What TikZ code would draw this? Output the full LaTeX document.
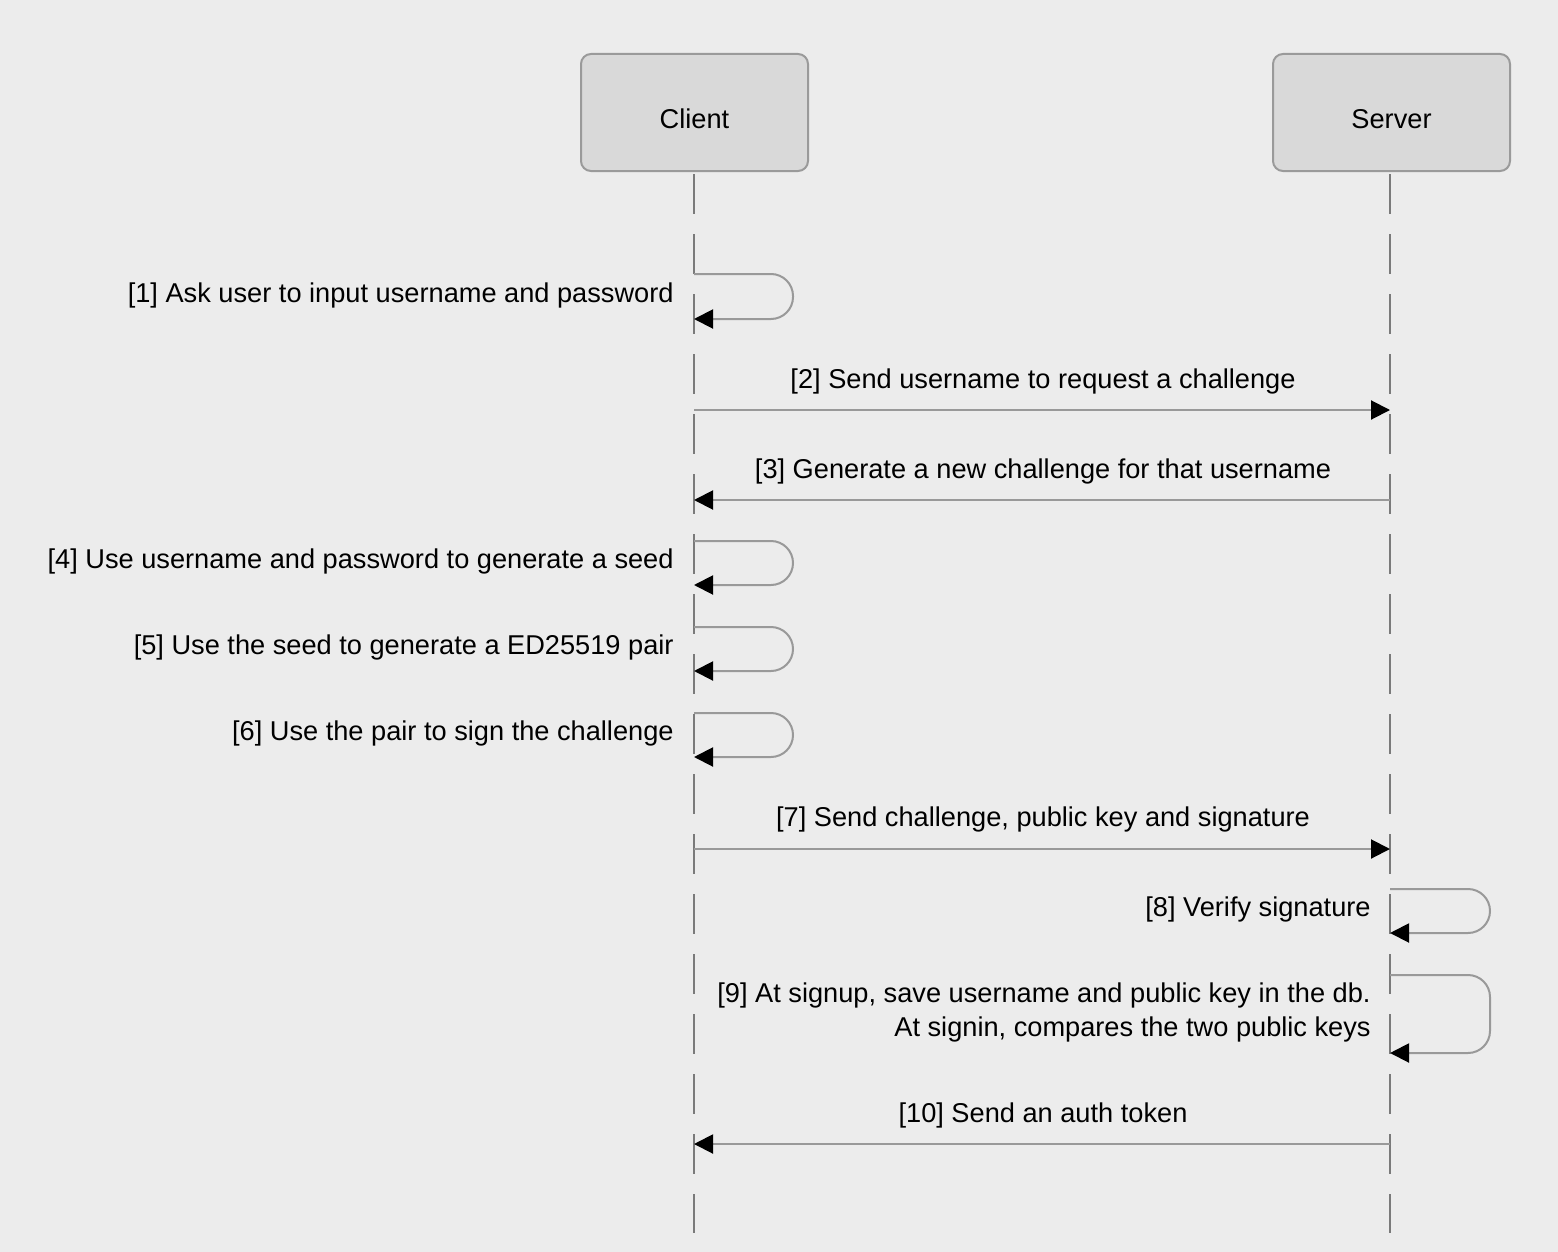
\documentclass[tikz,border=0pt]{standalone}
\usepackage{fontspec}
\setmainfont{Liberation Sans}
\usetikzlibrary{arrows.meta}
\definecolor{bg}{HTML}{ECECEC}
\definecolor{boxfill}{HTML}{D9D9D9}
\definecolor{boxline}{HTML}{9A9A9A}
\definecolor{lifecol}{HTML}{7A7A7A}
\definecolor{msgcol}{HTML}{999999}
\begin{document}
\begin{tikzpicture}[x=0.5pt,y=-0.5pt,
  actor/.style={draw=boxline,fill=boxfill,rounded corners=5pt,line width=1pt,minimum height=58.5pt,inner sep=0pt,text height=15.8pt,text depth=0pt,font=\fontsize{13.6}{16}\selectfont},
  life/.style={draw=lifecol,line width=1pt,dash pattern=on 20pt off 10pt},
  msg/.style={draw=msgcol,line width=1pt,-{Triangle[length=9.5pt,width=9.5pt,color=black,fill=black]}},
  selfmsg/.style={msg,rounded corners=11pt},
  lbl/.style={font=\fontsize{13.6}{17}\selectfont,inner sep=0pt}]
\useasboundingbox[fill=bg] (0,0) rectangle (1558,1252);
% actors
\node[actor,minimum width=113.5pt] (client) at (694.5,112.5) {Client};
\node[actor,minimum width=118.5pt] (server) at (1391.5,112.5) {Server};
\coordinate (cend) at (694,1233);
\coordinate (send) at (1390,1233);
\draw[life] (694,174) coordinate (cstart) -- (cend);
\draw[life] (1390,174) coordinate (sstart) -- (send);
% message anchor points on lifelines
\coordinate (c1a) at (694,274); \coordinate (c1b) at (694,319);
\coordinate (c2) at (694,410);  \coordinate (s2) at (1390,410);
\coordinate (c3) at (694,500);  \coordinate (s3) at (1390,500);
\coordinate (c4a) at (694,541); \coordinate (c4b) at (694,585);
\coordinate (c5a) at (694,627); \coordinate (c5b) at (694,671);
\coordinate (c6a) at (694,713); \coordinate (c6b) at (694,757);
\coordinate (c7) at (694,849);  \coordinate (s7) at (1390,849);
\coordinate (s8a) at (1390,889); \coordinate (s8b) at (1390,933);
\coordinate (s9a) at (1390,975); \coordinate (s9b) at (1390,1053);
\coordinate (c10) at (694,1144); \coordinate (s10) at (1390,1144);
% messages
\draw[selfmsg] (c1a) -- ++(99,0) |- (c1b);
\node[lbl,anchor=east] (l1) at (674,295) {[1] Ask user to input username and password};
\draw[msg] (c2) -- (s2);
\node[lbl] (l2) at (1043,381) {[2] Send username to request a challenge};
\draw[msg] (s3) -- (c3);
\node[lbl] (l3) at (1043,471) {[3] Generate a new challenge for that username};
\draw[selfmsg] (c4a) -- ++(99,0) |- (c4b);
\node[lbl,anchor=east] (l4) at (674,561) {[4] Use username and password to generate a seed};
\draw[selfmsg] (c5a) -- ++(99,0) |- (c5b);
\node[lbl,anchor=east] (l5) at (674,647) {[5] Use the seed to generate a ED25519 pair};
\draw[selfmsg] (c6a) -- ++(99,0) |- (c6b);
\node[lbl,anchor=east] (l6) at (674,733) {[6] Use the pair to sign the challenge};
\draw[msg] (c7) -- (s7);
\node[lbl] (l7) at (1043,819) {[7] Send challenge, public key and signature};
\draw[selfmsg] (s8a) -- ++(100,0) |- (s8b);
\node[lbl,anchor=east] (l8) at (1371,909) {[8] Verify signature};
\draw[selfmsg] (s9a) -- ++(100,0) |- (s9b);
\node[lbl,anchor=east,align=right] (l9) at (1371,1012) {[9] At signup, save username and public key in the db.\\At signin, compares the two public keys};
\draw[msg] (s10) -- (c10);
\node[lbl] (l10) at (1043,1115) {[10] Send an auth token};
\end{tikzpicture}
\end{document}
